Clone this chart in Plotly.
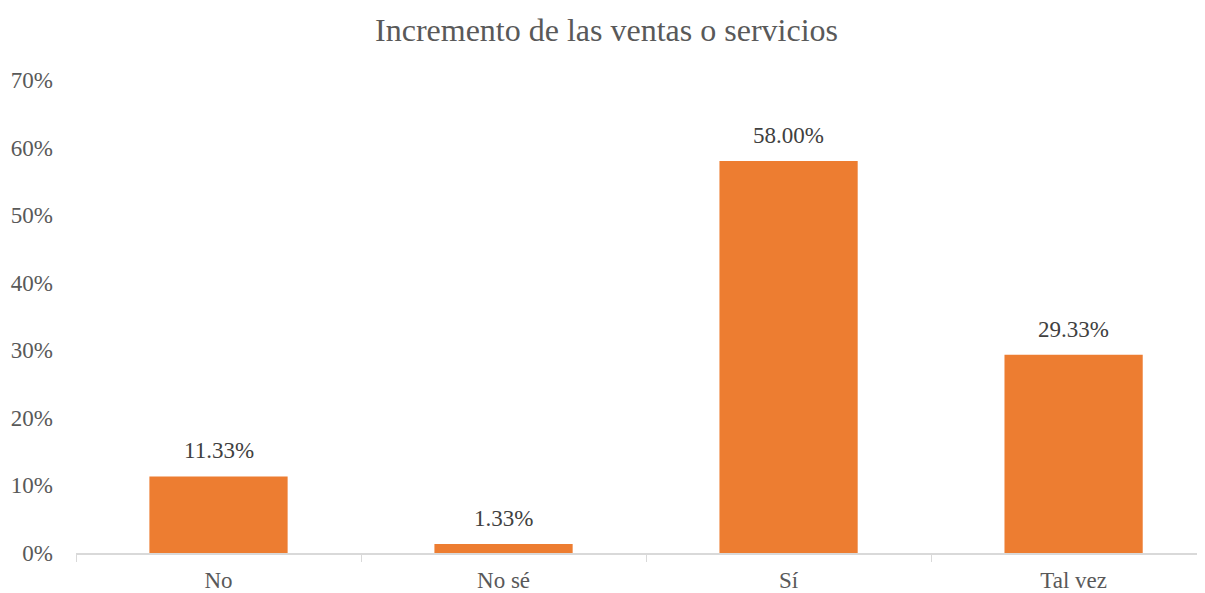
import plotly.graph_objs as go

categorias = ["No", "No sé", "Sí", "Tal vez"]
porcentajes = [0.1133, 0.0133, 0.58, 0.2933]
etiquetas = ["11.33%", "1.33%", "58.00%", "29.33%"]

fuente = "Liberation Serif, Times New Roman, serif"
gris = "#595959"

fig = go.Figure(go.Bar(
    x=categorias,
    y=porcentajes,
    marker=dict(color="#ED7D31", line=dict(width=0)),
    width=0.485,
    showlegend=False,
))

# etiquetas de datos encima de cada barra
for c, v, t in zip(categorias, porcentajes, etiquetas):
    fig.add_annotation(x=c, y=v, text=t, showarrow=False, yanchor="bottom",
                       yshift=11, font=dict(family=fuente, size=23, color="#404040"))

# la pagina tiene un margen de 8px en el body
fig.update_layout(
    width=1197, height=585,
    paper_bgcolor="white", plot_bgcolor="white",
    margin=dict(l=68, r=0, t=72, b=40),
    font=dict(family=fuente, size=23, color=gris),
    title=dict(text="Incremento de las ventas o servicios", x=0.5, y=0.962,
               xanchor="center", yanchor="middle",
               font=dict(family=fuente, size=32, color=gris)),
    xaxis=dict(
        range=[-0.5, 3.461],
        showline=True, linecolor="#d9d9d9", linewidth=1.5,
        ticks="outside", tickson="boundaries", ticklen=7, tickcolor="#d9d9d9",
        ticklabelstandoff=6,
        showgrid=False, fixedrange=True,
    ),
    yaxis=dict(
        range=[0, 0.7], dtick=0.1, tickformat=".0%",
        showgrid=False, zeroline=False, showline=False,
        ticklabelstandoff=22, fixedrange=True,
    ),
)

fig.write_html("out.html")
